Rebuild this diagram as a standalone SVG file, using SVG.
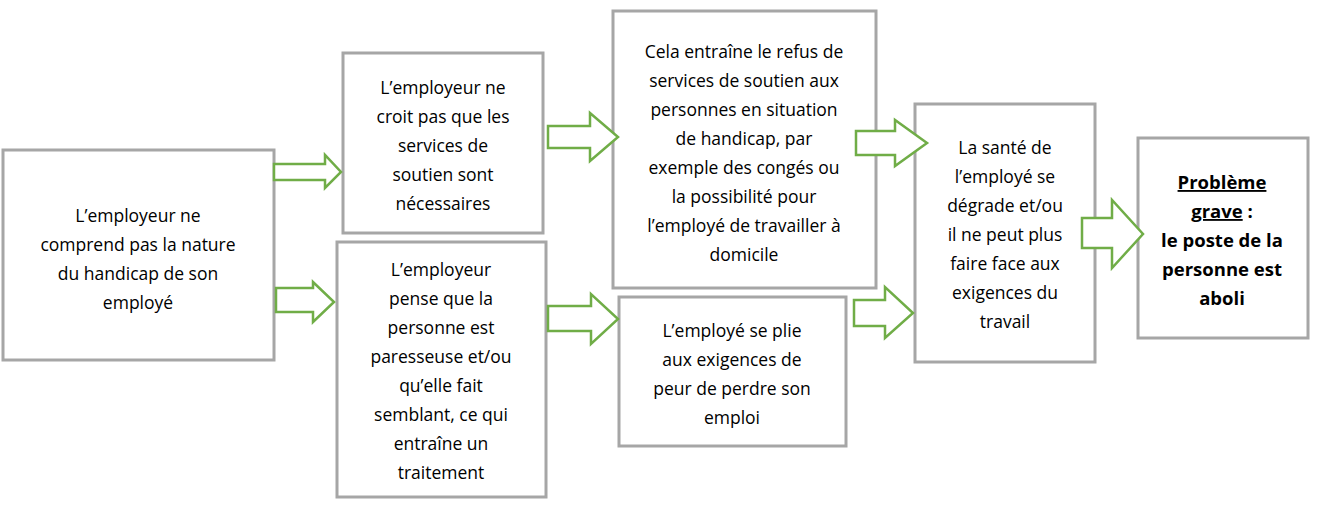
<svg xmlns="http://www.w3.org/2000/svg" width="1317" height="507" viewBox="0 0 1317 507">
<style>
.b{fill:#fff;stroke:#a6a6a6;stroke-width:3}
.a{fill:#fff;stroke:#70ad47;stroke-width:2.5;stroke-linejoin:miter}
text{font-family:"Open Sans","Liberation Sans",sans-serif;font-size:17.5px;fill:#000;text-anchor:middle}
.bo{font-weight:bold;font-size:18.5px}
</style>
<rect width="1317" height="507" fill="#fff"/>
<g id="n1"><rect class="b" x="3" y="150" width="271" height="210"/>
<text x="138" y="222">L’employeur ne</text><text x="138" y="251">comprend pas la nature</text><text x="138" y="280">du handicap de son</text><text x="138" y="309">employé</text></g>
<g id="n2"><rect class="b" x="343" y="53" width="200" height="180"/>
<text x="443" y="94">L’employeur ne</text><text x="443" y="123">croit pas que les</text><text x="443" y="152">services de</text><text x="443" y="181">soutien sont</text><text x="443" y="210">nécessaires</text></g>
<g id="n3"><rect class="b" x="337" y="242" width="209" height="255"/>
<text x="441" y="276">L’employeur</text><text x="441" y="305">pense que la</text><text x="441" y="334">personne est</text><text x="441" y="363">paresseuse et/ou</text><text x="441" y="392">qu’elle fait</text><text x="441" y="421">semblant, ce qui</text><text x="441" y="450">entraîne un</text><text x="441" y="479">traitement</text></g>
<g id="n4"><rect class="b" x="613" y="11" width="263" height="277"/>
<text x="744" y="58">Cela entraîne le refus de</text><text x="744" y="87">services de soutien aux</text><text x="744" y="116">personnes en situation</text><text x="744" y="145">de handicap, par</text><text x="744" y="174">exemple des congés ou</text><text x="744" y="203">la possibilité pour</text><text x="744" y="232">l’employé de travailler à</text><text x="744" y="261">domicile</text></g>
<g id="n5"><rect class="b" x="619" y="297" width="227" height="149"/>
<text x="732" y="337">L’employé se plie</text><text x="732" y="366">aux exigences de</text><text x="732" y="395">peur de perdre son</text><text x="732" y="424">emploi</text></g>
<g id="n6"><rect class="b" x="915" y="104" width="180" height="258"/>
<text x="1005" y="154">La santé de</text><text x="1005" y="183">l’employé se</text><text x="1005" y="212">dégrade et/ou</text><text x="1005" y="241">il ne peut plus</text><text x="1005" y="270">faire face aux</text><text x="1005" y="299">exigences du</text><text x="1005" y="328">travail</text></g>
<g id="n7"><rect class="b" x="1138" y="138" width="170" height="200"/>
<text class="bo" x="1222" y="189" text-decoration="underline">Problème</text>
<text class="bo" x="1222" y="218"><tspan text-decoration="underline">grave</tspan> :</text>
<text class="bo" x="1222" y="247">le poste de la</text><text class="bo" x="1222" y="276">personne est</text><text class="bo" x="1222" y="305">aboli</text></g>
<g id="connectors">
<polygon class="a" points="274,164 325,164 325,155 341,172 325,188 325,180 274,180"/>
<polygon class="a" points="276,288 313,288 313,282 334,302 313,322 313,312 276,312"/>
<polygon class="a" points="548,126 590,126 590,113 618,137 590,161 590,148 548,148"/>
<polygon class="a" points="548,306 591,306 591,294 618,319 591,344 591,331 548,331"/>
<polygon class="a" points="856,131 895,131 895,120 927,143 895,166 895,155 856,155"/>
<polygon class="a" points="854,300 885,300 885,287 913,313 885,338 885,326 854,326"/>
<polygon class="a" points="1082,218 1112,218 1112,200 1143,234 1112,268 1112,248 1082,248"/>
</g>
</svg>
